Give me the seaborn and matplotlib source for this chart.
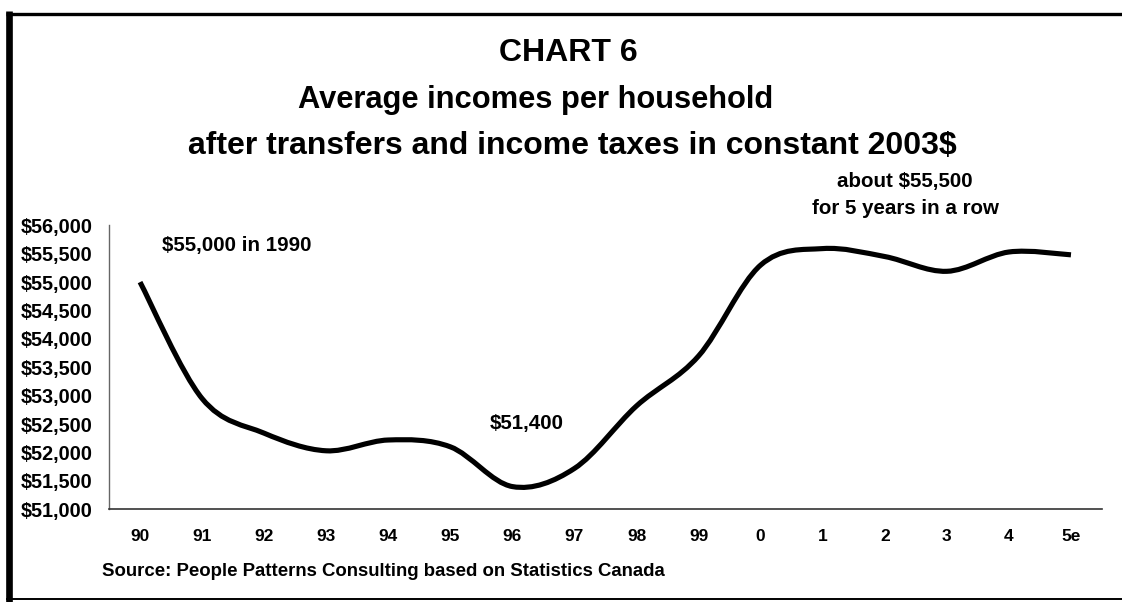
import numpy as np
import matplotlib
matplotlib.use("Agg")
import matplotlib.pyplot as plt
from matplotlib.path import Path
from matplotlib.patches import PathPatch
from matplotlib.lines import Line2D
from matplotlib.ticker import FuncFormatter, FixedLocator
import seaborn as sns

# Average household income after transfers and income taxes (constant 2003$)
years = ["90", "91", "92", "93", "94", "95", "96", "97", "98", "99",
         "0", "1", "2", "3", "4", "5e"]
income = [55000, 52950, 52340, 52030, 52220, 52100, 51400, 51720,
          52820, 53700, 55300, 55590, 55450, 55190, 55530, 55480]
y_ticks = list(range(51000, 56001, 500))

title_lines = ["CHART 6",
               "Average incomes per household",
               "after transfers and income taxes in constant 2003$"]
source_note = "Source: People Patterns Consulting based on Statistics Canada"

sns.set_style("white")
plt.rcParams["font.family"] = ["Liberation Sans", "DejaVu Sans"]
plt.rcParams["font.weight"] = "bold"
plt.rcParams["text.color"] = "black"

W, H = 1122, 602
fig = plt.figure(figsize=(W / 100, H / 100), dpi=100)
fig.patch.set_facecolor("white")

def fx(px):
    return px / W

def fy(py):
    return 1 - py / H

ax = fig.add_axes([fx(109), fy(509.3), fx(1102) - fx(109), fy(225.3) - fy(509.3)])
ax.set_facecolor("white")

# Smoothed line: cubic Bezier segments (Catmull-Rom control points) through the data
xs = np.arange(len(years), dtype=float)
ys = np.asarray(income, dtype=float)
n = len(xs)
verts = [(xs[0], ys[0])]
codes = [Path.MOVETO]
for i in range(n - 1):
    x0, y0 = (xs[i - 1], ys[i - 1]) if i > 0 else (xs[i], ys[i])
    x1, y1 = xs[i], ys[i]
    x2, y2 = xs[i + 1], ys[i + 1]
    x3, y3 = (xs[i + 2], ys[i + 2]) if i + 2 < n else (x2, y2)
    c1 = (x1 + (x2 - x0) / 6, y1 + (y2 - y0) / 6)
    c2 = (x2 - (x3 - x1) / 6, y2 - (y3 - y1) / 6)
    verts += [c1, c2, (x2, y2)]
    codes += [Path.CURVE4] * 3
ax.add_patch(PathPatch(Path(verts, codes), facecolor="none", edgecolor="black",
                       linewidth=3.7, capstyle="butt", joinstyle="round"))

ax.set_xlim(-0.5, len(years) - 0.5)
ax.set_ylim(51000, 56000)

# y axis
ax.yaxis.set_major_locator(FixedLocator(y_ticks))
ax.yaxis.set_major_formatter(FuncFormatter(lambda v, p: f"${int(v):,}"))
ax.tick_params(axis="y", which="major", direction="out", length=3.6, width=1,
               color="#555555", pad=8.5, labelsize=14.3, labelcolor="black")

# x axis: labels at category centres, tick marks between categories
ax.set_xticks(xs)
ax.set_xticklabels(years)
ax.set_xticks(np.arange(-0.5, len(years), 1.0), minor=True)
ax.tick_params(axis="x", which="major", length=0, pad=14.5, labelsize=12.5,
               labelcolor="black")
ax.tick_params(axis="x", which="minor", direction="out", length=3.2, width=1,
               color="#555555")
for lbl in ax.get_xticklabels() + ax.get_yticklabels():
    lbl.set_fontweight("bold")

for side in ["top", "right"]:
    ax.spines[side].set_visible(False)
ax.spines["left"].set_color("#666666")
ax.spines["left"].set_linewidth(1.0)
ax.spines["bottom"].set_color("#333333")
ax.spines["bottom"].set_linewidth(1.2)

# Titles
fig.text(fx(568), fy(53), title_lines[0], ha="center", va="center",
         fontsize=23, fontweight="bold")
fig.text(fx(536), fy(100), title_lines[1], ha="center", va="center",
         fontsize=22.2, fontweight="bold")
fig.text(fx(572.5), fy(146), title_lines[2], ha="center", va="center",
         fontsize=23, fontweight="bold")

# Annotations
fig.text(fx(162), fy(246), "$55,000 in 1990", ha="left", va="center",
         fontsize=14.8, fontweight="bold")
fig.text(fx(527), fy(423), "$51,400", ha="center", va="center",
         fontsize=14.8, fontweight="bold")
fig.text(fx(905), fy(181), "about $55,500", ha="center", va="center",
         fontsize=14.8, fontweight="bold")
fig.text(fx(905), fy(209), "for 5 years in a row", ha="center", va="center",
         fontsize=14.8, fontweight="bold")

fig.text(fx(102), fy(571), source_note, ha="left", va="center",
         fontsize=13.4, fontweight="bold")

# Border around the chart
fig.add_artist(Line2D([fx(9.3), fx(9.3)], [fy(11), fy(602)], color="black",
                      linewidth=4.8, solid_capstyle="butt"))
fig.add_artist(Line2D([fx(6), fx(1122)], [fy(13.5), fy(13.5)], color="black",
                      linewidth=2.4, solid_capstyle="butt"))
fig.add_artist(Line2D([fx(6), fx(1122)], [fy(598.5), fy(598.5)], color="black",
                      linewidth=1.4, solid_capstyle="butt"))

fig.savefig("out.png", dpi=100, facecolor="white")
